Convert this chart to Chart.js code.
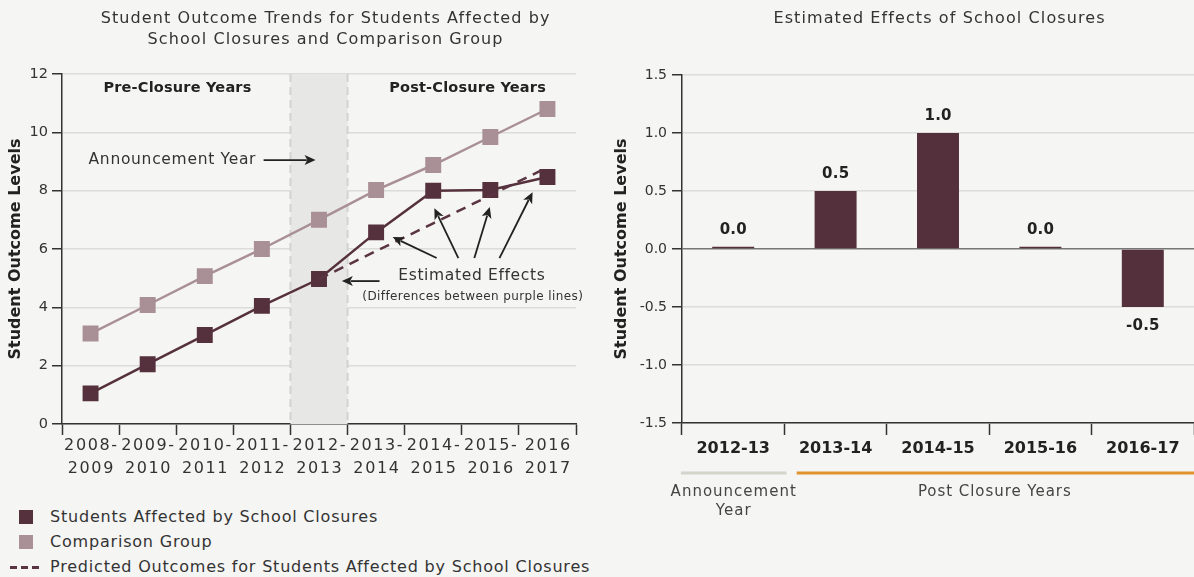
<!DOCTYPE html>
<html>
<head>
<meta charset="utf-8">
<script src="https://cdn.jsdelivr.net/npm/chart.js@4.4.1/dist/chart.umd.min.js"></script>
<style>
  html, body { margin: 0; padding: 0; background: #f5f5f3; }
  body { width: 1194px; height: 577px; position: relative; overflow: hidden; font-family: "DejaVu Sans", sans-serif; color: #333; }
  #leftBox { position: absolute; left: 0; top: 0; width: 600px; height: 490px; }
  #rightBox { position: absolute; left: 600px; top: 0; width: 594px; height: 540px; }
  .legend { position: absolute; left: 0; top: 506px; font-size: 16px; letter-spacing: 0.8px; color: #333; }
  .legend div { height: 25px; line-height: 22px; position: relative; padding-left: 50px; white-space: nowrap; }
  .legend .sw { position: absolute; left: 19px; top: 4px; width: 14px; height: 14px; }
  .legend .dash { position: absolute; left: 10px; top: 10px; width: 31px; height: 2.5px;
    background: repeating-linear-gradient(90deg, #5a3442 0 7px, transparent 7px 11px); }
</style>
</head>
<body>
<div id="leftBox"><canvas id="chart-trends"></canvas></div>
<div id="rightBox"><canvas id="chart-effects"></canvas></div>
<div class="legend">
  <div><span class="sw" style="background:#55303d"></span>Students Affected by School Closures</div>
  <div><span class="sw" style="background:#a98f96"></span>Comparison Group</div>
  <div><span class="dash"></span>Predicted Outcomes for Students Affected by School Closures</div>
</div>
<script>
// left chart: outcome levels by school year
const years = [["2008-", "2009"], ["2009-", "2010"], ["2010-", "2011"], ["2011-", "2012"],
  ["2012-", "2013"], ["2013-", "2014"], ["2014-", "2015"], ["2015-", "2016"], ["2016", "2017"]];
const affected = [1.05, 2.05, 3.05, 4.05, 4.97, 6.57, 8.0, 8.02, 8.47];
const comparison = [3.1, 4.08, 5.07, 6.0, 7.0, 8.02, 8.88, 9.84, 10.8];
const predicted = [null, null, null, null, 4.97, 5.93, 6.88, 7.84, 8.8];

// right chart: estimated effects
const effectYears = ["2012-13", "2013-14", "2014-15", "2015-16", "2016-17"];
const effects = [0.02, 0.5, 1.0, 0.02, -0.5];

const FONT = '"DejaVu Sans", sans-serif';
const DARK = "#55303d";
const LIGHT = "#a98f96";
const INK = "#333";

Chart.defaults.font.family = FONT;
Chart.defaults.color = INK;

// text with letter spacing (the original face is wider than DejaVu)
function label(ctx, text, x, y, size, spacing, opts = {}) {
  ctx.font = (opts.bold ? "bold " : "") + size + "px " + FONT;
  ctx.letterSpacing = spacing + "px";
  ctx.textAlign = opts.align || "center";
  ctx.textBaseline = "middle";
  ctx.fillStyle = opts.color || INK;
  const w = ctx.textAlign === "center" ? spacing / 2 : 0;
  ctx.fillText(text, x + w, y);
  ctx.letterSpacing = "0px";
}

function arrow(ctx, x0, y0, x1, y1) {
  const ang = Math.atan2(y1 - y0, x1 - x0);
  const len = 11, half = 5;
  ctx.beginPath();
  ctx.moveTo(x0, y0);
  ctx.lineTo(x1 - Math.cos(ang) * len * 0.8, y1 - Math.sin(ang) * len * 0.8);
  ctx.stroke();
  ctx.beginPath();
  ctx.moveTo(x1, y1);
  ctx.lineTo(x1 - Math.cos(ang) * len - Math.sin(ang) * half, y1 - Math.sin(ang) * len + Math.cos(ang) * half);
  ctx.lineTo(x1 - Math.cos(ang) * len * 0.75, y1 - Math.sin(ang) * len * 0.75);
  ctx.lineTo(x1 - Math.cos(ang) * len + Math.sin(ang) * half, y1 - Math.sin(ang) * len - Math.cos(ang) * half);
  ctx.closePath();
  ctx.fill();
}

const trendDecor = {
  id: "trendDecor",
  beforeDatasetsDraw(chart) {
    const { ctx, chartArea: a, scales: { x } } = chart;
    const x0 = x.getPixelForValue(3.5), x1 = x.getPixelForValue(4.5);
    ctx.save();
    ctx.fillStyle = "#e7e7e5";
    ctx.fillRect(x0, a.top, x1 - x0, a.bottom - a.top);
    ctx.strokeStyle = "#d2d2ce";
    ctx.lineWidth = 2;
    ctx.setLineDash([8, 5]);
    [x0, x1].forEach((px) => {
      ctx.beginPath();
      ctx.moveTo(px, a.top);
      ctx.lineTo(px, a.bottom - 1);
      ctx.stroke();
    });
    ctx.restore();
  },
  afterDraw(chart) {
    const { ctx, chartArea: a, scales: { x, y } } = chart;
    const P = (i, v) => [x.getPixelForValue(i), y.getPixelForValue(v)];
    ctx.save();
    const cx = (a.left + a.right) / 2 + 6;
    label(ctx, "Student Outcome Trends for Students Affected by", cx, 19, 16, 1.1);
    label(ctx, "School Closures and Comparison Group", cx, 40, 16, 1.1);

    // category labels, two lines each
    years.forEach((lines, i) => {
      const px = x.getPixelForValue(i);
      label(ctx, lines[0], px, a.bottom + 22, 16, 1.6);
      label(ctx, lines[1], px, a.bottom + 45, 16, 1.6);
    });

    let p = P(1.52, 11.52);
    label(ctx, "Pre-Closure Years", p[0], p[1], 14.5, 0.2, { bold: true, color: "#222" });
    p = P(6.6, 11.52);
    label(ctx, "Post-Closure Years", p[0], p[1], 14.5, 0.2, { bold: true, color: "#222" });

    p = P(2.9, 9.05);
    label(ctx, "Announcement Year", p[0], p[1], 15.5, 0.7, { align: "right" });
    p = P(6.67, 5.07);
    label(ctx, "Estimated Effects", p[0], p[1], 15.5, 0.65);
    p = P(6.69, 4.35);
    label(ctx, "(Differences between purple lines)", p[0], p[1], 12, 0.4);

    ctx.strokeStyle = "#222";
    ctx.fillStyle = "#222";
    ctx.lineWidth = 1.8;
    const arrows = [
      [3.03, 9.05, 3.94, 9.05],
      [5.06, 4.9, 4.4, 4.9],
      [6.06, 5.69, 5.29, 6.41],
      [6.44, 5.69, 6.02, 7.4],
      [6.72, 5.69, 6.99, 7.44],
      [7.16, 5.69, 7.74, 7.95],
    ];
    arrows.forEach(([i0, v0, i1, v1]) => {
      const s = P(i0, v0), e = P(i1, v1);
      arrow(ctx, s[0], s[1], e[0], e[1]);
    });
    ctx.restore();
  },
};

new Chart(document.getElementById("chart-trends"), {
  type: "line",
  data: {
    labels: years,
    datasets: [
      {
        label: "Comparison Group",
        data: comparison,
        borderColor: LIGHT,
        backgroundColor: LIGHT,
        borderWidth: 2.5,
        pointStyle: "rect",
        pointRadius: 9.5,
        pointHoverRadius: 9.5,
      },
      {
        label: "Predicted Outcomes",
        data: predicted,
        borderColor: "#5a3442",
        borderWidth: 2.5,
        borderDash: [10, 7],
        pointRadius: 0,
        spanGaps: false,
      },
      {
        label: "Students Affected by School Closures",
        data: affected,
        borderColor: DARK,
        backgroundColor: DARK,
        borderWidth: 2.5,
        pointStyle: "rect",
        pointRadius: 9.5,
        pointHoverRadius: 9.5,
      },
    ],
  },
  options: {
    responsive: true,
    maintainAspectRatio: false,
    animation: false,
    layout: { padding: { top: 74, right: 24, bottom: 10, left: 0 } },
    plugins: { legend: { display: false }, tooltip: { enabled: false } },
    scales: {
      x: {
        offset: true,
        grid: { drawOnChartArea: false, offset: true, tickLength: 11, tickColor: INK, tickWidth: 1.5 },
        border: { color: INK, width: 1.5 },
        ticks: { display: false },
        afterFit: (s) => { s.height = 56; },
      },
      y: {
        min: 0,
        max: 12,
        ticks: { stepSize: 2, font: { size: 14.5 }, color: INK, padding: 4 },
        grid: { color: "#dcdcda", lineWidth: 1.5, tickLength: 10, tickColor: INK, tickWidth: 1.5 },
        border: { color: INK, width: 1.5 },
        title: { display: true, text: "Student Outcome Levels", font: { size: 16, weight: "bold" }, color: "#222", padding: { top: 6 } },
        afterFit: (s) => { s.width = 62; },
      },
    },
  },
  plugins: [trendDecor],
});

const effectDecor = {
  id: "effectDecor",
  afterDraw(chart) {
    const { ctx, chartArea: a, scales: { x } } = chart;
    ctx.save();
    label(ctx, "Estimated Effects of School Closures", 339, 19, 16, 1.1);

    // value labels
    const meta = chart.getDatasetMeta(0);
    meta.data.forEach((bar, i) => {
      const v = effects[i];
      const ty = v >= 0 ? bar.y - 17 : bar.y + 19;
      label(ctx, v.toFixed(1), bar.x, ty, 15, 0.2, { bold: true, color: "#222" });
    });

    // period underlines
    ctx.lineWidth = 3;
    ctx.strokeStyle = "#d4d4cc";
    ctx.beginPath();
    ctx.moveTo(x.getPixelForValue(-0.51), 473);
    ctx.lineTo(x.getPixelForValue(0.52), 473);
    ctx.stroke();
    ctx.strokeStyle = "#e0922f";
    ctx.beginPath();
    ctx.moveTo(x.getPixelForValue(0.62), 473);
    ctx.lineTo(a.right, 473);
    ctx.stroke();

    label(ctx, "Announcement", x.getPixelForValue(0), 492, 15, 1.0, { color: "#444" });
    label(ctx, "Year", x.getPixelForValue(0), 511, 15, 1.0, { color: "#444" });
    label(ctx, "Post Closure Years", x.getPixelForValue(2.55), 492, 15, 0.95, { color: "#444" });
    ctx.restore();
  },
};

new Chart(document.getElementById("chart-effects"), {
  type: "bar",
  data: {
    labels: effectYears,
    datasets: [
      {
        label: "Estimated effect",
        data: effects,
        backgroundColor: "#54303c",
        barPercentage: 0.41,
        categoryPercentage: 1,
      },
    ],
  },
  options: {
    responsive: true,
    maintainAspectRatio: false,
    animation: false,
    layout: { padding: { top: 75, right: 0, bottom: 540 - 423 - 60, left: 0 } },
    plugins: { legend: { display: false }, tooltip: { enabled: false } },
    scales: {
      x: {
        grid: { drawOnChartArea: false, offset: true, tickLength: 12, tickColor: INK, tickWidth: 1.5 },
        border: { color: INK, width: 1.5 },
        ticks: { font: { size: 16, weight: "bold" }, color: "#222", padding: 4, maxRotation: 0 },
        afterFit: (s) => { s.height = 60; },
      },
      y: {
        min: -1.5,
        max: 1.5,
        ticks: { stepSize: 0.5, font: { size: 14 }, color: INK, padding: 5, callback: (v) => v.toFixed(1) },
        grid: {
          color: (c) => (c.tick && c.tick.value === 0 ? "#777" : "#dcdcda"),
          lineWidth: 1.5,
          tickLength: 10,
          tickColor: INK,
          tickWidth: 1.5,
        },
        border: { color: INK, width: 1.5 },
        title: { display: true, text: "Student Outcome Levels", font: { size: 16, weight: "bold" }, color: "#222", padding: { top: 12 } },
        afterFit: (s) => { s.width = 82; },
      },
    },
  },
  plugins: [effectDecor],
});
</script>
</body>
</html>
